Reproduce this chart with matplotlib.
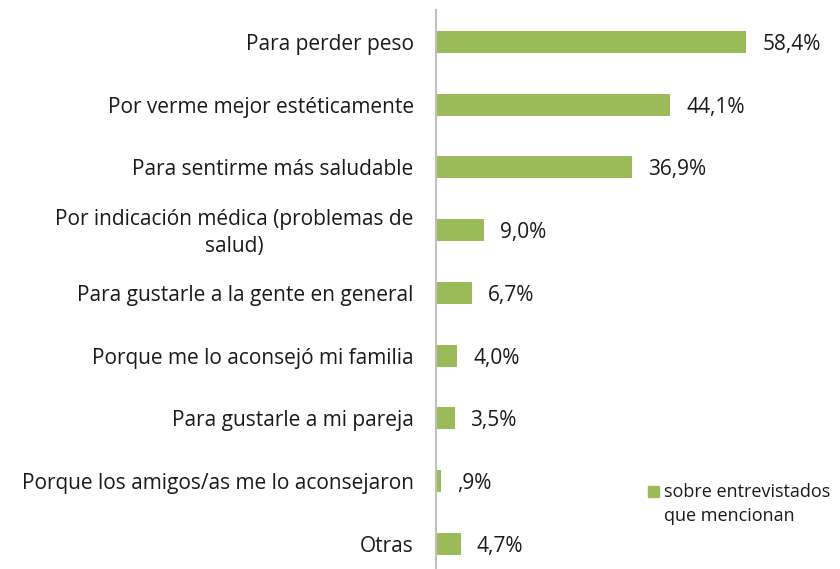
import matplotlib
matplotlib.use("Agg")
import matplotlib.pyplot as plt
from matplotlib.patches import Rectangle

# ===== Data =====
categories = [
    "Para perder peso",
    "Por verme mejor estéticamente",
    "Para sentirme más saludable",
    "Por indicación médica (problemas de\nsalud)",
    "Para gustarle a la gente en general",
    "Porque me lo aconsejó mi familia",
    "Para gustarle a mi pareja",
    "Porque los amigos/as me lo aconsejaron",
    "Otras",
]
values = [58.4, 44.1, 36.9, 9.0, 6.7, 4.0, 3.5, 0.9, 4.7]
value_labels = ["58,4%", "44,1%", "36,9%", "9,0%", "6,7%", "4,0%", "3,5%", ",9%", "4,7%"]
legend_label = "sobre entrevistados\nque mencionan"

GREEN = "#9BBB59"
TEXT = "#1a1a1a"

plt.rcParams["font.family"] = ["Open Sans", "DejaVu Sans"]

fig = plt.figure(figsize=(8.4, 5.69), dpi=100)
ax = fig.add_axes([436 / 840, 0.0, 1 - 436 / 840, 1 - 10 / 569])

pos = list(range(len(categories)))
ax.barh(pos, values, height=0.35, color=GREEN)
ax.set_ylim(8.40, -0.51)
ax.set_xlim(0, 76)

# small downward nudge so text sits level with the bar centre
dy = 0.04
for p, v, lab in zip(pos, values, value_labels):
    ax.text(v + 3.0, p + dy, lab, va="center", ha="left", fontsize=15, color=TEXT)

for p, cat in zip(pos, categories):
    ax.text(-4.2, p + dy, cat, va="center", ha="right", fontsize=15, color=TEXT,
            multialignment="center", linespacing=1.4)

for s in ["top", "right", "bottom"]:
    ax.spines[s].set_visible(False)
ax.spines["left"].set_color("#BFBFBF")
ax.spines["left"].set_linewidth(1.5)
ax.set_xticks([])
ax.set_yticks([])

# legend, drawn by hand so the square sits beside the first line
fig.patches.append(Rectangle((648 / 840, 1 - 497 / 569), 11 / 840, 11 / 569,
                             transform=fig.transFigure, color=GREEN))
fig.text(664 / 840, 1 - 483 / 569, legend_label, ha="left", va="top",
         fontsize=13, color=TEXT, linespacing=1.45)

fig.savefig("out.png", dpi=100)
